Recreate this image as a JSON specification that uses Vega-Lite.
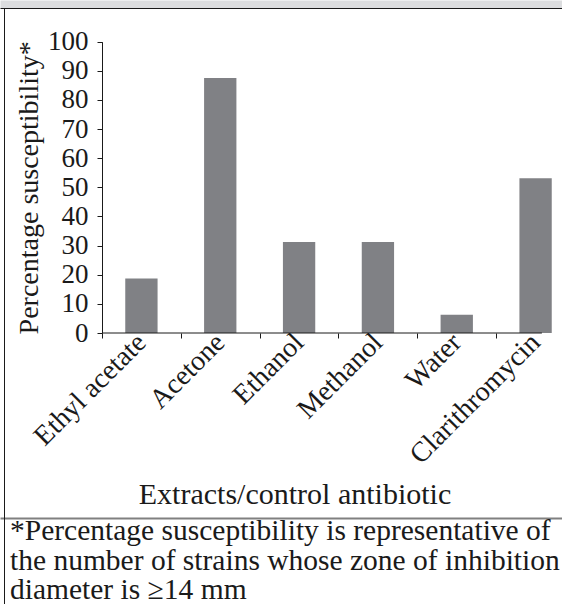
{
  "$schema": "https://vega.github.io/schema/vega-lite/v6.json",
  "width": 562,
  "height": 604,
  "autosize": {"type": "none"},
  "padding": 0,
  "background": "white",
  "config": {
    "view": {"stroke": null},
    "font": "Liberation Serif",
    "axis": {"labelFont": "Liberation Serif", "titleFont": "Liberation Serif", "grid": false}
  },
  "title": {
    "text": ["*Percentage susceptibility is representative of", "the number of strains whose zone of inhibition", "diameter is ≥14 mm"],
    "orient": "bottom",
    "anchor": "start",
    "frame": "group",
    "offset": -64,
    "dx": 10,
    "baseline": "alphabetic",
    "fontSize": 29.5,
    "fontWeight": "normal",
    "font": "Liberation Serif",
    "lineHeight": 29.5,
    "color": "#1a1a1a"
  },
  "layer": [
    {
      "layer": [
        {
          "data": {"values": [
            {"agent": "Ethyl acetate", "pct": 18.75},
            {"agent": "Acetone", "pct": 87.5},
            {"agent": "Ethanol", "pct": 31.25},
            {"agent": "Methanol", "pct": 31.25},
            {"agent": "Water", "pct": 6.25},
            {"agent": "Clarithromycin", "pct": 53.1}
          ]},
          "mark": {"type": "bar", "color": "#808185", "width": {"band": 0.41}},
          "encoding": {
            "x": {
              "field": "agent", "type": "nominal", "sort": null,
              "scale": {"domain": ["Ethyl acetate", "Acetone", "Ethanol", "Methanol", "Water", "Clarithromycin"], "range": [102, 575], "paddingInner": 0, "paddingOuter": 0},
              "axis": {
                "orient": "bottom", "offset": -271, "domain": false, "tickBand": "center",
                "tickOffset": -39.42, "labelOffset": 39.42,
                "tickSize": 5, "tickColor": "#1a1a1a", "tickWidth": 1,
                "labelAngle": -45, "labelAlign": "right", "labelBaseline": "middle", "labelPadding": 0,
                "labelFontSize": 28, "labelColor": "#1a1a1a", "labelLimit": 400, "labelOverlap": false,
                "title": "Extracts/control antibiotic", "titleFontSize": 30, "titleFontWeight": "normal",
                "titleColor": "#1a1a1a", "titleX": 294.5, "titleY": 170, "titleBaseline": "alphabetic", "titleAlign": "center"
              }
            },
            "y": {
              "field": "pct", "type": "quantitative",
              "scale": {"domain": [0, 100], "range": [333, 41.7], "nice": false},
              "axis": {
                "orient": "left", "offset": -102, "values": [0, 10, 20, 30, 40, 50, 60, 70, 80, 90, 100],
                "domain": true, "domainColor": "#1a1a1a", "tickSize": 5, "tickColor": "#1a1a1a",
                "labelPadding": 9, "labelFontSize": 27, "labelColor": "#1a1a1a",
                "title": "Percentage susceptibility*", "titleFontSize": 28, "titleFontWeight": "normal",
                "titlePadding": 4, "titleColor": "#1a1a1a"
              }
            }
          }
        },
        {
          "data": {"values": [{}]},
          "mark": {"type": "rule", "color": "#1a1a1a", "strokeWidth": 1},
          "encoding": {
            "x": {"datum": "Ethyl acetate", "bandPosition": 0},
            "x2": {"datum": "Clarithromycin", "bandPosition": 0.58},
            "y": {"datum": 0}
          }
        }
      ]
    },
    {
      "data": {"values": [{}]},
      "mark": {"type": "rule", "opacity": 0},
      "encoding": {
        "x": {"datum": 0, "type": "quantitative", "scale": {"domain": [0, 1]},
          "axis": {"orient": "top", "offset": -4, "domain": true, "domainColor": "#dcdddf", "domainWidth": 8, "ticks": false, "labels": false, "title": null, "grid": false}}
      }
    },
    {
      "data": {"values": [{}]},
      "mark": {"type": "rule", "opacity": 0},
      "encoding": {
        "x": {"datum": 0, "type": "quantitative", "scale": {"domain": [0, 1]},
          "axis": {"orient": "top", "offset": -8, "domain": true, "domainColor": "#1a1a1a", "domainWidth": 1, "ticks": false, "labels": false, "title": null, "grid": false}}
      }
    },
    {
      "data": {"values": [{}]},
      "mark": {"type": "rule", "opacity": 0},
      "encoding": {
        "y": {"datum": 0, "type": "quantitative", "scale": {"domain": [0, 1], "range": [604, 8]},
          "axis": {"orient": "left", "offset": -4, "domain": true, "domainColor": "#1a1a1a", "domainWidth": 1, "ticks": false, "labels": false, "title": null, "grid": false}}
      }
    },
    {
      "data": {"values": [{}]},
      "mark": {"type": "rule", "opacity": 0},
      "encoding": {
        "x": {"datum": 0, "type": "quantitative", "scale": {"domain": [0, 1]},
          "axis": {"orient": "bottom", "offset": -86, "domain": true, "domainColor": "#808080", "domainWidth": 2, "ticks": false, "labels": false, "title": null, "grid": false}}
      }
    }
  ],
  "resolve": {
    "scale": {"x": "independent", "y": "independent"},
    "axis": {"x": "independent", "y": "independent"}
  }
}
